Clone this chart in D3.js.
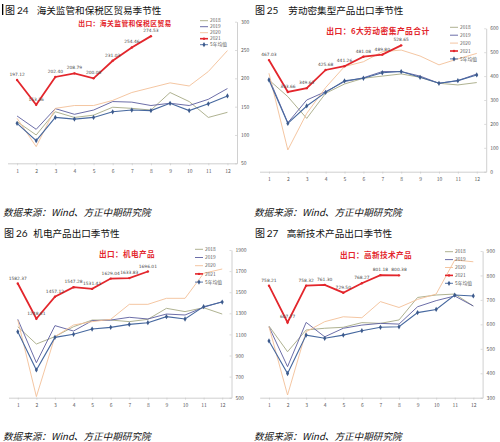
<!DOCTYPE html>
<html>
<head>
<meta charset="utf-8">
<script src="https://cdn.jsdelivr.net/npm/d3@7"></script>
<style>
  body { margin: 0; background: #fff; }
  svg { display: block; }
  text { font-family: "Noto Sans CJK SC", "Noto Sans", sans-serif; }
</style>
</head>
<body>
<svg id="chart" width="500" height="442"></svg>
<script>
"use strict";

const months = ['1', '2', '3', '4', '5', '6', '7', '8', '9', '10', '11', '12']
const years = ['2018', '2019', '2020', '2021', '5年均值']
const yearColors = ['#a6a985', '#5b5e9e', '#f3c097', '#e3262c', '#46689f']

// 图24 海关监管和保税区贸易
const bonded2018 = [123.5, 100, 141, 131, 135, 149, 147, 144, 175, 159, 131, 140]
const bonded2019 = [133.5, 110, 146.5, 136.5, 144, 159, 158, 152, 156, 152, 163, 182]
const bonded2020 = [129.4, 79.4, 147, 152, 152, 161, 175, 183.5, 192, 186.5, 212, 249]
const bonded2021 = [197.12, 153.36, 202.40, 208.79, 200.08, 231.03, 254.46, 274.53]
const bondedAvg = [120.6, 90, 131, 128, 131, 141, 144, 143, 156, 143, 155, 169]

// 图25 劳动密集型产品
const labor2018 = [384, 314, 223, 328, 367, 391, 400, 409, 395, 370, 363, 373]
const labor2019 = [391, 205, 300, 335, 377, 393, 419, 419, 400, 370, 381, 409]
const labor2020 = [412, 91, 244, 352, 440, 460, 502, 509, 484, 447, 472, 495]
const labor2021 = [467.03, 333.66, 349.63, 425.68, 441.26, 481.08, 489.80, 528.65]
const laborAvg = [384, 202, 275, 332, 380, 391, 414, 419, 395, 370, 381, 405]

// 图26 机电产品
const mech2018 = [1173, 1009, 1079, 1173, 1236, 1236, 1221, 1243, 1347, 1316, 1353, 1293]
const mech2019 = [1243, 832, 1183, 1132, 1230, 1236, 1262, 1246, 1293, 1284, 1357, 1410]
const mech2020 = [1236, 510, 1079, 1189, 1221, 1243, 1385, 1385, 1442, 1442, 1679, 1720]
const mech2021 = [1582.37, 1248.61, 1457.12, 1547.28, 1531.41, 1629.04, 1633.83, 1696.01]
const mechAvg = [1126, 763, 1072, 1101, 1151, 1167, 1195, 1211, 1268, 1246, 1363, 1407]

// 图27 高新技术产品
const tech2018 = [593, 488, 577, 584, 588, 607, 604, 618, 710, 720, 724, 675]
const tech2019 = [590, 427, 608, 549, 584, 597, 604, 601, 672, 697, 716, 675]
const tech2020 = [590, 311, 570, 611, 631, 627, 693, 669, 702, 724, 863, 856]
const tech2021 = [758.21, 607.77, 758.32, 761.30, 729.50, 768.27, 801.18, 800.38]
const techAvg = [532, 399, 556, 543, 556, 574, 588, 590, 648, 661, 720, 716]

const panels = [
   { num: '24', head: '海关监管和保税区贸易季节性', inner: '出口：海关监管和保税区贸易',
     series: [bonded2018, bonded2019, bonded2020, bonded2021, bondedAvg],
     yDomain: [50, 300], yStep: 50,
     hx: [5, 17, 36.7], hy: 14, srcX: 3, srcY: 216,
     xRange: [7.5, 237], yRange: [163.3, 21.7], titleX: 125, titleY: 26.3, titleSize: 6.8,
     legX: 200, legY: 20.7, legStep: 6 },
   { num: '25', head: '劳动密集型产品出口季节性', inner: '出口：6大劳动密集产品合计',
     series: [labor2018, labor2019, labor2020, labor2021, laborAvg],
     yDomain: [0, 600], yStep: 100,
     hx: [255, 266.7, 288.3], hy: 14, srcX: 254, srcY: 216,
     xRange: [259.5, 486.2], yRange: [171.7, 28.3], titleX: 378, titleY: 34, titleSize: 7.8,
     legX: 450, legY: 27.3, legStep: 7.9 },
   { num: '26', head: '机电产品出口季节性', inner: '出口：机电产品',
     series: [mech2018, mech2019, mech2020, mech2021, mechAvg],
     yDomain: [500, 1900], yStep: 200,
     hx: [4, 16, 33.3], hy: 237, srcX: 3, srcY: 440,
     xRange: [8.5, 231.5], yRange: [397.7, 250], titleX: 127, titleY: 257, titleSize: 7.6,
     legX: 195, legY: 249.3, legStep: 8.2 },
   { num: '27', head: '高新技术产品出口季节性', inner: '出口：高新技术产品',
     series: [tech2018, tech2019, tech2020, tech2021, techAvg],
     yDomain: [300, 900], yStep: 100,
     hx: [255, 266.7, 286.7], hy: 237, srcX: 254, srcY: 440,
     xRange: [259.7, 482.6], yRange: [397.7, 251], titleX: 376, titleY: 258, titleSize: 7.6,
     legX: 445, legY: 251.7, legStep: 7.9 }
]

const svg = d3.select('#chart')

// little cursor bar in front of 图24
svg.append('rect').attr('x', 2).attr('y', 4).attr('width', 1.3).attr('height', 11).attr('fill', '#000')

const diamond = d3.symbol().type(d3.symbolDiamond).size(8)

panels.forEach(p => {
   let g = svg.append('g')

   // header
   g.append('text').attr('x', p.hx[0]).attr('y', p.hy).attr('font-size', 10).attr('fill', '#111').text('图')
   g.append('text').attr('x', p.hx[1]).attr('y', p.hy).attr('font-size', 10).attr('fill', '#111')
      .style('font-family', 'Lato, sans-serif').text(p.num)
   g.append('text').attr('x', p.hx[2]).attr('y', p.hy).attr('font-size', 9.6).attr('fill', '#111').text(p.head)

   // source line
   g.append('text').attr('x', p.srcX).attr('y', p.srcY).attr('font-size', 9.6).attr('fill', '#111')
      .attr('font-style', 'italic').text('数据来源：Wind、方正中期研究院')

   const x = d3.scalePoint().domain(months).range(p.xRange).padding(0.5)
   const y = d3.scaleLinear().domain(p.yDomain).range(p.yRange)

   // x axis
   let xa = g.append('g').attr('transform', `translate(0,${p.yRange[0]})`)
      .call(d3.axisBottom(x).tickSizeInner(2).tickSizeOuter(0).tickPadding(4))
   xa.select('.domain').attr('stroke', '#c4c4c4').attr('stroke-width', 0.8)
   xa.selectAll('line').attr('stroke', '#c4c4c4').attr('stroke-width', 0.6)
   xa.selectAll('text').attr('font-size', 5).attr('fill', '#595959')

   // right value axis
   let ya = g.append('g').attr('transform', `translate(${p.xRange[1]},0)`)
      .call(d3.axisRight(y).tickValues(d3.range(p.yDomain[0], p.yDomain[1] + 1, p.yStep))
         .tickFormat(d3.format('d'))
         .tickSizeInner(-2).tickSizeOuter(0).tickPadding(4))
   ya.select('.domain').attr('stroke', '#c4c4c4').attr('stroke-width', 0.8)
   ya.selectAll('line').attr('stroke', '#c4c4c4').attr('stroke-width', 0.6)
   ya.selectAll('text').attr('font-size', 5).attr('fill', '#595959')

   const line = d3.line().x((d, i) => x(months[i])).y(d => y(d))

   // draw older years first, then average, then 2021 on top
   ;[0, 1, 2, 4, 3].forEach(k => {
      let vals = p.series[k]
      g.append('path').datum(vals)
         .attr('fill', 'none')
         .attr('stroke', yearColors[k])
         .attr('stroke-width', k === 3 ? 1.8 : (k === 4 ? 1.1 : 0.9))
         .attr('d', line)
      if (k === 4) {
         g.selectAll(null).data(vals).enter().append('path')
            .attr('d', diamond)
            .attr('transform', (d, i) => `translate(${x(months[i])},${y(d)})`)
            .attr('fill', '#3c5a8c')
      }
      if (k === 3) {
         g.selectAll(null).data(vals).enter().append('circle')
            .attr('cx', (d, i) => x(months[i]))
            .attr('cy', d => y(d))
            .attr('r', 1.2)
            .attr('fill', yearColors[3])
         g.selectAll(null).data(vals).enter().append('text')
            .attr('x', (d, i) => x(months[i]))
            .attr('y', d => y(d) - 4)
            .attr('text-anchor', 'middle')
            .attr('font-size', 4.4)
            .attr('fill', '#4a4a4a')
            .style('font-family', '"DejaVu Sans", sans-serif')
            .text(d => d.toFixed(2))
      }
   })

   // red inner title
   g.append('text').attr('x', p.titleX).attr('y', p.titleY)
      .attr('text-anchor', 'middle')
      .attr('font-size', p.titleSize)
      .attr('font-weight', 'bold')
      .attr('fill', '#e3262c')
      .attr('letter-spacing', 0.4)
      .text(p.inner)

   // legend
   years.forEach((name, k) => {
      let ly = p.legY + k * p.legStep
      g.append('line').attr('x1', p.legX).attr('x2', p.legX + 8).attr('y1', ly).attr('y2', ly)
         .attr('stroke', yearColors[k]).attr('stroke-width', k === 3 ? 1.6 : 0.9)
      if (k === 3) g.append('circle').attr('cx', p.legX + 4).attr('cy', ly).attr('r', 1.2).attr('fill', yearColors[3])
      if (k === 4) g.append('path').attr('d', diamond).attr('transform', `translate(${p.legX + 4},${ly})`).attr('fill', '#3c5a8c')
      g.append('text').attr('x', p.legX + 10).attr('y', ly + 1.7)
         .attr('font-size', 4.8).attr('fill', '#595959').text(name)
   })
})
</script>
</body>
</html>
